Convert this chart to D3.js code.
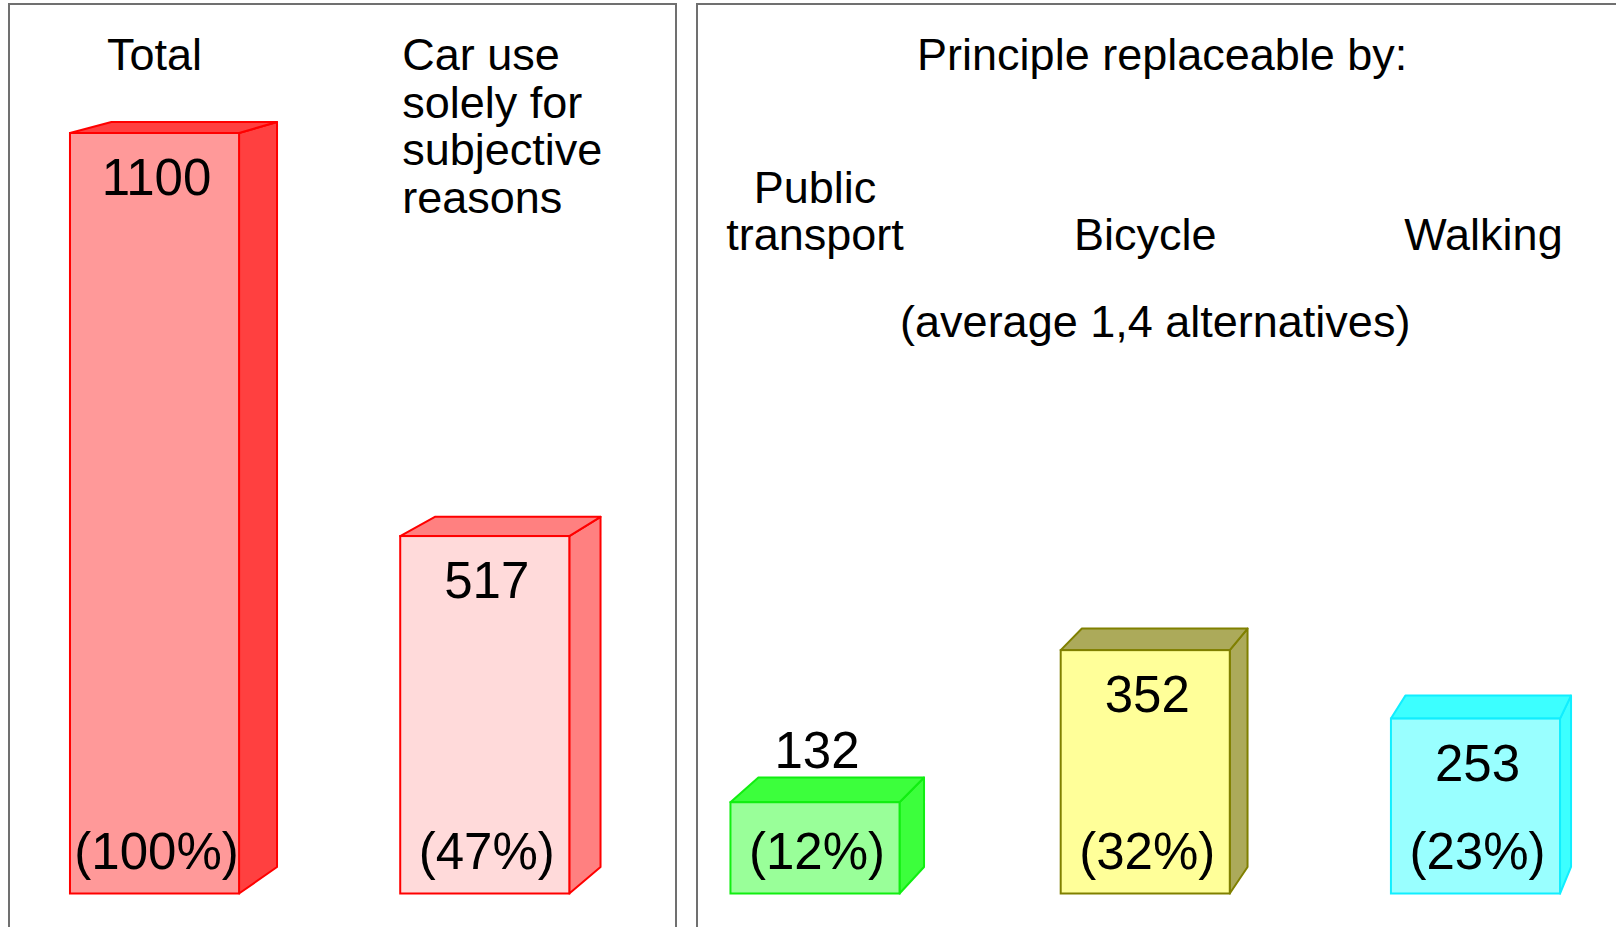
<!DOCTYPE html>
<html>
<head>
<meta charset="utf-8">
<script src="https://cdn.jsdelivr.net/npm/d3@7"></script>
<style>
    html, body { margin: 0; padding: 0; background: #fff; overflow: hidden; }
    text { font-family: "Liberation Sans", Arial, Helvetica, sans-serif; fill: #000; }
</style>
</head>
<body>
<svg id="chart" width="1616" height="927"></svg>
<script>
// Data
const categories = ["Total", "Car use", "Public transport", "Bicycle", "Walking"];
const values = [1100, 517, 132, 352, 253];
const percentLabels = ["(100%)", "(47%)", "(12%)", "(32%)", "(23%)"];
const labelLines = [
    ["Total"],
    ["Car use", "solely for", "subjective", "reasons"],
    ["Public", "transport"],
    ["Bicycle"],
    ["Walking"]
];
const panelOf = ["left", "left", "right", "right", "right"];
const rightTitle = "Principle replaceable by:";
const rightNote = "(average 1,4 alternatives)";

// Colours (front face, side/top faces, outline)
const frontColors = ["#ff9999", "#ffdada", "#99ff99", "#ffff99", "#99ffff"];
const sideColors = ["#ff4040", "#ff8080", "#3cff3c", "#acaa5a", "#3cffff"];
const strokeColors = ["#ff0000", "#ff0000", "#11ee11", "#808000", "#11eeff"];
// small horizontal nudges of the category labels
const labelNudge = [0, 0, 0, 0, 8];

const svg = d3.select("#chart");

const x = d3.scaleBand()
    .domain(categories)
    .range([-10.6, 1640.6])
    .paddingInner(0.488)
    .paddingOuter(0.244);

const y = d3.scaleLinear()
    .domain([0, 1100])
    .range([893.5, 133]);

// perspective: back face is the front face shrunk towards a vanishing point
const vp = [2100, -407];
const depth = 0.9796;
function back(p) {
    return [vp[0] + (p[0] - vp[0]) * depth, vp[1] + (p[1] - vp[1]) * depth];
}

// panel frames
svg.append("rect")
    .attr("x", 9).attr("y", 4)
    .attr("width", 667).attr("height", 960)
    .attr("fill", "none").attr("stroke", "#707070").attr("stroke-width", 2);
svg.append("rect")
    .attr("x", 697).attr("y", 4)
    .attr("width", 960).attr("height", 960)
    .attr("fill", "none").attr("stroke", "#707070").attr("stroke-width", 2);

const rows = categories.map((c, i) => ({
    cat: c, value: values[i], pct: percentLabels[i], lines: labelLines[i],
    panel: panelOf[i], front: frontColors[i], side: sideColors[i], stroke: strokeColors[i],
    nudge: labelNudge[i]
}));

const bars = svg.append("g").selectAll("g")
    .data(rows)
    .enter()
    .append("g");

bars.each(function (d) {
    const g = d3.select(this);
    const x0 = x(d.cat), x1 = x(d.cat) + x.bandwidth();
    const y0 = y(d.value), y1 = y(0);
    const tl = [x0, y0], tr = [x1, y0], br = [x1, y1];
    const line = pts => "M" + pts.map(p => p.join(",")).join("L") + "Z";

    // side face
    g.append("path")
        .attr("d", line([tr, back(tr), back(br), br]))
        .attr("fill", d.side).attr("stroke", d.stroke)
        .attr("stroke-width", 2).attr("stroke-linejoin", "round");
    // top face
    g.append("path")
        .attr("d", line([tl, back(tl), back(tr), tr]))
        .attr("fill", d.side).attr("stroke", d.stroke)
        .attr("stroke-width", 2).attr("stroke-linejoin", "round");
    // front face
    g.append("rect")
        .attr("x", x0).attr("y", y0)
        .attr("width", x1 - x0).attr("height", y1 - y0)
        .attr("fill", d.front).attr("stroke", d.stroke).attr("stroke-width", 2);
});

// value labels: inside the bar near the top, or above it when the bar is short
bars.append("text")
    .attr("x", d => x(d.cat) + x.bandwidth() / 2 + 2)
    .attr("y", d => (y(0) - y(d.value) > 120 ? y(d.value) + 62 : y(d.value) - 34))
    .attr("text-anchor", "middle")
    .style("font-size", "51px")
    .text(d => d.value);

// percentage labels at the base
bars.append("text")
    .attr("x", d => x(d.cat) + x.bandwidth() / 2 + 2)
    .attr("y", 869)
    .attr("text-anchor", "middle")
    .style("font-size", "51px")
    .text(d => d.pct);

// category labels
const labels = svg.append("g").selectAll("text")
    .data(rows)
    .enter()
    .append("text")
    .style("font-size", "45px")
    .attr("text-anchor", (d, i) => (i === 1 ? "start" : "middle"))
    .attr("x", (d, i) => (i === 1 ? x(d.cat) + 2 : x(d.cat) + x.bandwidth() / 2 + d.nudge));

labels.each(function (d) {
    const t = d3.select(this);
    const lh = 47.5;
    // left panel labels hang from the top; right panel labels sit on a common baseline
    const first = d.panel === "left" ? 70 : 250 - (d.lines.length - 1) * lh;
    d.lines.forEach((s, k) => {
        t.append("tspan")
            .attr("x", t.attr("x"))
            .attr("y", first + k * lh)
            .text(s);
    });
});

// right panel headings
const rightCenter = (x("Public transport") + x("Walking") + x.bandwidth()) / 2;
svg.append("text")
    .attr("x", rightCenter + 17).attr("y", 70)
    .attr("text-anchor", "middle")
    .style("font-size", "45px")
    .text(rightTitle);
svg.append("text")
    .attr("x", rightCenter + 10).attr("y", 337)
    .attr("text-anchor", "middle")
    .style("font-size", "45px")
    .text(rightNote);
</script>
</body>
</html>
